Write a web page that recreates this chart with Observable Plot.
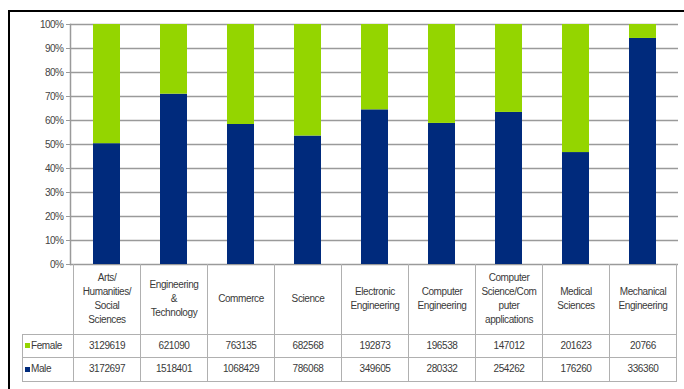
<!DOCTYPE html>
<html><head><meta charset="utf-8">
<script src="https://cdn.jsdelivr.net/npm/d3@7"></script>
<script src="https://cdn.jsdelivr.net/npm/@observablehq/plot@0.6"></script>
<style>
body{margin:0;background:#fff;}
#wrap{position:relative;width:684px;height:389px;overflow:hidden;font-family:"Liberation Sans",Arial,sans-serif;}
#frame{position:absolute;left:8px;top:10px;width:720px;height:420px;border-left:2px solid #000;border-top:2px solid #000;}
#chart{position:absolute;left:0;top:0;}
table{position:absolute;border-collapse:collapse;font-size:10px;letter-spacing:-0.4px;color:#3a3a3a;table-layout:fixed;}
td{border:1px solid #b0b0b0;text-align:center;padding:0;white-space:pre-line;line-height:14px;overflow:hidden;}
td.leg{text-align:left;padding-left:2px;white-space:nowrap;}
td.blank{border:none;}
tr.head td{border-top:none;}
.sw{display:inline-block;width:5px;height:5px;margin-right:1px;vertical-align:middle;}
</style></head><body><div id="wrap"><div id="frame"></div><div id="chart"></div></div>
<script>
const categories = ["Arts/\nHumanities/\nSocial\nSciences","Engineering\n&\nTechnology","Commerce","Science","Electronic\nEngineering","Computer\nEngineering","Computer\nScience/Com\nputer\napplications","Medical\nSciences","Mechanical\nEngineering"];
const female = [3129619, 621090, 763135, 682568, 192873, 196538, 147012, 201623, 20766];
const male = [3172697, 1518401, 1068429, 786068, 349605, 280332, 254262, 176260, 336360];
const seriesNames = ["Male", "Female"];
const seriesColors = ["#002a7c", "#94d500"];
const yTicks = [0, 0.1, 0.2, 0.3, 0.4, 0.5, 0.6, 0.7, 0.8, 0.9, 1];

const rows = categories.flatMap((c, i) => [
  {cat: c, series: "Male", value: male[i]},
  {cat: c, series: "Female", value: female[i]}
]);

const plot = Plot.plot({
  width: 684, height: 389,
  marginLeft: 70, marginRight: 6, marginTop: 24, marginBottom: 125,
  style: {background: "transparent", fontFamily: '"Liberation Sans",Arial,sans-serif', fontSize: "10px", color: "#444", letterSpacing: "-0.5px"},
  x: {domain: categories, paddingInner: 0.6, paddingOuter: 0.3, axis: null},
  y: {domain: [0, 1]},
  color: {domain: seriesNames, range: seriesColors},
  marks: [
    Plot.ruleY(yTicks, {stroke: "#9a9a9a", strokeWidth: 1.5}),
    Plot.barY(rows, Plot.stackY({offset: "normalize", order: seriesNames}, {x: "cat", y: "value", fill: "series"})),
    Plot.axisY({ticks: yTicks, tickFormat: d3.format(".0%"), tickSize: 4, tickPadding: 3, label: null, stroke: "#9a9a9a", fill: "#444"}),
    Plot.frame({anchor: "left", stroke: "#9a9a9a", strokeWidth: 1.5})
  ]
});
document.getElementById("chart").appendChild(plot);

// data table below the chart, aligned to the band scale
const xs = plot.scale("x"), ysc = plot.scale("y");
const gap = (xs.step - xs.bandwidth) / 2;
const firstLeft = xs.apply(categories[0]) - gap;
const tableLeft = 22;
const table = document.createElement("table");
table.style.left = tableLeft + "px";
table.style.top = ysc.apply(0) + "px";
const cg = document.createElement("colgroup");
const c0 = document.createElement("col"); c0.style.width = (firstLeft - tableLeft) + "px"; cg.appendChild(c0);
categories.forEach(() => { const c = document.createElement("col"); c.style.width = xs.step + "px"; cg.appendChild(c); });
table.appendChild(cg);
const head = table.insertRow(); head.className = "head"; head.style.height = "70px";
const hb = head.insertCell(); hb.className = "blank";
categories.forEach(c => { const td = head.insertCell(); td.textContent = c; });
[["Female", female, seriesColors[1], 23], ["Male", male, seriesColors[0], 24]].forEach(([name, vals, col, h]) => {
  const tr = table.insertRow(); tr.style.height = h + "px";
  const lg = tr.insertCell(); lg.className = "leg";
  const sw = document.createElement("span"); sw.className = "sw"; sw.style.background = col;
  lg.appendChild(sw); lg.appendChild(document.createTextNode(name));
  vals.forEach(v => { const td = tr.insertCell(); td.textContent = v; });
});
document.getElementById("wrap").appendChild(table);
</script></body></html>
